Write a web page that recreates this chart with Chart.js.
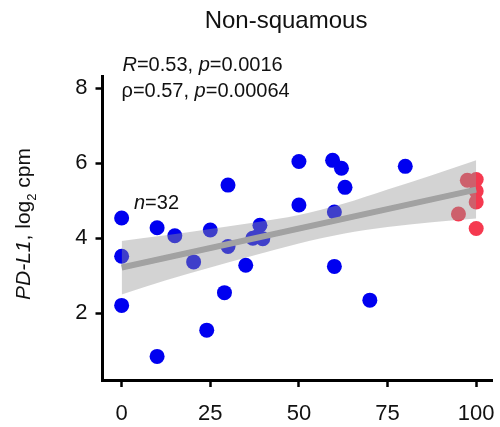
<!DOCTYPE html>
<html>
<head>
<meta charset="utf-8">
<script src="https://cdn.jsdelivr.net/npm/chart.js@4"></script>
<style>
  html, body { margin: 0; padding: 0; background: #ffffff; }
  #wrap { position: relative; width: 500px; height: 427px; }
</style>
</head>
<body>
<div id="wrap"><canvas id="chart" width="500" height="427"></canvas></div>
<script>
// Tumour samples: x = percentage, y = PD-L1 expression (log2 cpm)
const blueX = [0, 0, 0, 10, 10, 15, 20.3, 25, 24, 30, 30, 29, 35, 37, 39, 39.8, 38.3, 50, 50, 59.5, 62, 63, 60, 60, 70, 80];
const blueY = [4.54, 3.52, 2.21, 4.28, 0.85, 4.07, 3.37, 4.22, 1.55, 5.42, 3.78, 2.55, 3.28, 4.0, 4.35, 3.99, 4.05, 6.05, 4.89, 6.08, 5.87, 5.36, 4.70, 3.25, 2.35, 5.92];
const redX = [97.5, 100, 100, 100, 95, 100];
const redY = [5.55, 5.57, 5.26, 4.97, 4.65, 4.26];

// Linear fit and its confidence band
const fitX = [0, 100];
const fitY = [3.22, 5.30];
const bandX = [0, 12.5, 25, 37.5, 50, 62.5, 75, 87.5, 100];
const bandUpper = [3.93, 4.08, 4.25, 4.42, 4.62, 4.92, 5.30, 5.68, 6.08];
const bandLower = [2.50, 2.88, 3.22, 3.55, 3.86, 4.12, 4.30, 4.43, 4.53];

// Axis ticks
const xTicks = [0, 25, 50, 75, 100];
const yTicks = [2, 4, 6, 8];

const FONT = '"Liberation Sans", Arial, Helvetica, sans-serif';

const pts = (xs, ys) => xs.map((x, i) => ({ x: x, y: ys[i] }));

// Draw a run of text pieces, some italic or subscript, starting at (x, y)
function drawRuns(ctx, runs, x, y, size, align) {
  const fontFor = r => (r.it ? 'italic ' : '') + (r.sub ? size * 0.62 : size) + 'px ' + FONT;
  let total = 0;
  runs.forEach(r => { ctx.font = fontFor(r); total += ctx.measureText(r.t).width; });
  let cx = align === 'center' ? x - total / 2 : x;
  ctx.textAlign = 'left';
  ctx.textBaseline = 'alphabetic';
  runs.forEach(r => {
    ctx.font = fontFor(r);
    ctx.fillText(r.t, cx, y + (r.sub ? size * 0.28 : 0));
    cx += ctx.measureText(r.t).width;
  });
}

const annotations = {
  id: 'annotations',
  afterDraw(chart) {
    const ctx = chart.ctx;
    const area = chart.chartArea;
    ctx.save();
    ctx.fillStyle = '#111111';
    // panel title
    drawRuns(ctx, [{ t: 'Non-squamous' }], 286, 27.5, 24, 'center');
    // correlation statistics
    drawRuns(ctx, [{ t: 'R', it: true }, { t: '=0.53, ' }, { t: 'p', it: true }, { t: '=0.0016' }], 122.5, 70.5, 20, 'left');
    drawRuns(ctx, [{ t: 'ρ=0.57, ' }, { t: 'p', it: true }, { t: '=0.00064' }], 121.5, 96.5, 20, 'left');
    // sample size
    drawRuns(ctx, [{ t: 'n', it: true }, { t: '=32' }], 134, 209, 20, 'left');
    // y axis title
    ctx.translate(30, (area.top + area.bottom) / 2 - 4);
    ctx.rotate(-Math.PI / 2);
    drawRuns(ctx, [{ t: 'PD-L1', it: true }, { t: ', log' }, { t: '2', sub: true }, { t: ' cpm' }], 0, 0, 21, 'center');
    ctx.restore();
  }
};

const axisStyle = {
  grid: { display: true, drawOnChartArea: false, drawTicks: true, tickLength: 7, tickWidth: 2.5, tickColor: '#000000' },
  border: { display: true, color: '#000000', width: 3 }
};

new Chart(document.getElementById('chart'), {
  type: 'scatter',
  data: {
    datasets: [
      {
        type: 'line', label: 'fit', data: pts(fitX, fitY), order: 1,
        borderColor: '#a2a2a2', borderWidth: 6, pointRadius: 0, fill: false, borderCapStyle: 'butt'
      },
      {
        type: 'line', label: 'upper', data: pts(bandX, bandUpper), order: 2,
        borderWidth: 0, borderColor: 'rgba(0,0,0,0)', pointRadius: 0,
        cubicInterpolationMode: 'monotone',
        fill: { target: '+1' }, backgroundColor: 'rgba(150,150,150,0.42)'
      },
      {
        type: 'line', label: 'lower', data: pts(bandX, bandLower), order: 2,
        borderWidth: 0, borderColor: 'rgba(0,0,0,0)', pointRadius: 0,
        cubicInterpolationMode: 'monotone', fill: false
      },
      {
        label: 'other', data: pts(blueX, blueY), order: 3,
        backgroundColor: '#0000f0', borderWidth: 0, pointRadius: 7.5, pointHoverRadius: 7.5
      },
      {
        label: 'high', data: pts(redX, redY), order: 3,
        backgroundColor: '#f5394f', borderWidth: 0, pointRadius: 7.5, pointHoverRadius: 7.5
      }
    ]
  },
  options: {
    responsive: false,
    animation: false,
    events: [],
    layout: { padding: { top: 76, right: 5, left: 0, bottom: 0 } },
    plugins: { legend: { display: false }, tooltip: { enabled: false }, title: { display: false } },
    scales: {
      x: Object.assign({
        type: 'linear', min: -5.4, max: 104.6,
        afterBuildTicks: s => { s.ticks = xTicks.map(v => ({ value: v })); },
        afterFit: s => { s.height = 47; s.paddingLeft = 0; s.paddingRight = 0; },
        ticks: { color: '#111111', font: { family: FONT, size: 22 }, padding: 14, maxRotation: 0 }
      }, axisStyle),
      y: Object.assign({
        type: 'linear', min: 0.22, max: 8.33,
        afterBuildTicks: s => { s.ticks = yTicks.map(v => ({ value: v })); },
        afterFit: s => { s.width = 102.5; s.paddingTop = 0; s.paddingBottom = 0; },
        ticks: { color: '#111111', font: { family: FONT, size: 22 }, padding: 8 }
      }, axisStyle)
    }
  },
  plugins: [annotations]
});
</script>
</body>
</html>
